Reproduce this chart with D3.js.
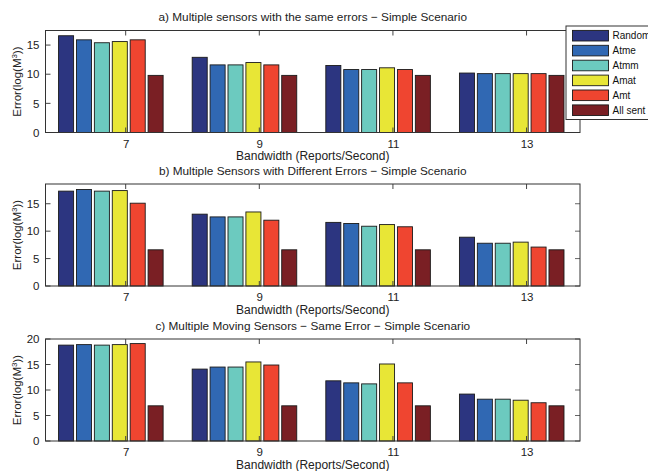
<!DOCTYPE html>
<html>
<head>
<meta charset="utf-8">
<script src="https://cdn.jsdelivr.net/npm/d3@7"></script>
<style>
  body { margin: 0; background: #fff; }
  svg { display: block; font-family: "Liberation Sans", Arial, sans-serif; }
</style>
</head>
<body>
<svg id="chart" width="648" height="471"></svg>
<script>
// Bandwidth groups and the six methods
const bandwidths = [7, 9, 11, 13];
const methods = ["Random", "Atme", "Atmm", "Amat", "Amt", "All sent"];
const colors = ["#2c3580", "#3068b3", "#6ccabf", "#e8e636", "#ef4530", "#7a1f24"];

// values per bandwidth, in the order of methods
const sameErrors = [
    [16.6, 15.9, 15.4, 15.6, 15.9, 9.8],
    [12.9, 11.6, 11.6, 12.0, 11.6, 9.8],
    [11.5, 10.8, 10.8, 11.1, 10.8, 9.8],
    [10.2, 10.1, 10.1, 10.1, 10.1, 9.8]
];
const differentErrors = [
    [17.3, 17.6, 17.3, 17.4, 15.1, 6.6],
    [13.1, 12.6, 12.6, 13.5, 12.0, 6.6],
    [11.6, 11.4, 10.9, 11.2, 10.8, 6.6],
    [8.9, 7.8, 7.8, 8.0, 7.1, 6.6]
];
const movingSensors = [
    [18.8, 18.9, 18.8, 18.9, 19.1, 6.9],
    [14.1, 14.5, 14.5, 15.5, 14.9, 6.9],
    [11.8, 11.4, 11.2, 15.1, 11.4, 6.9],
    [9.2, 8.2, 8.2, 8.0, 7.5, 6.9]
];

const titles = [
    "a) Multiple sensors with the same errors  \u2212 Simple Scenario",
    "b) Multiple Sensors with Different Errors \u2212 Simple Scenario",
    "c) Multiple Moving Sensors \u2212 Same Error \u2212 Simple Scenario"
];
const yMaxes = [17.5, 18.6, 20];
const yTickSets = [[0, 5, 10, 15], [0, 5, 10, 15], [0, 5, 10, 15, 20]];
const panelData = [sameErrors, differentErrors, movingSensors];

const svg = d3.select("#chart");
const left = 45.5, right = 580;
const panelTops = [30.5, 184, 339];
const panelH = 102;

const x = d3.scaleLinear().domain([5.8, 13.8]).range([left, right]);
// bar layout in x units
const barStep = 0.268, barW = 0.225, groupShift = -0.222;

panelData.forEach((data, p) => {
    const top = panelTops[p], bottom = top + panelH;
    const y = d3.scaleLinear().domain([0, yMaxes[p]]).range([bottom, top]);
    const g = svg.append("g");

    // bars
    bandwidths.forEach((bw, gi) => {
        g.selectAll(null)
            .data(data[gi])
            .enter()
            .append("rect")
            .attr("x", (d, i) => x(bw + groupShift + (i - 2.5) * barStep - barW / 2))
            .attr("width", x(barW) - x(0))
            .attr("y", d => y(d))
            .attr("height", d => y(0) - y(d))
            .attr("fill", (d, i) => colors[i])
            .attr("stroke", "#1a1a1a")
            .attr("stroke-width", 0.9);
    });

    // bottom axis with labels
    const xAxis = d3.axisBottom(x).tickValues(bandwidths).tickSize(0).tickPadding(7);
    g.append("g")
        .attr("transform", `translate(0,${bottom})`)
        .call(xAxis)
        .call(a => a.select(".domain").remove())
        .selectAll("text").attr("font-size", 11.5).attr("fill", "#222");

    const yAxis = d3.axisLeft(y).tickValues(yTickSets[p]).tickSize(0).tickPadding(6);
    g.append("g")
        .attr("transform", `translate(${left},0)`)
        .call(yAxis)
        .call(a => a.select(".domain").remove())
        .selectAll("text").attr("font-size", 11.5).attr("fill", "#222");

    // inward ticks on all sides
    const tk = 5;
    g.selectAll(null).data(bandwidths).enter().append("line")
        .attr("x1", d => x(d)).attr("x2", d => x(d))
        .attr("y1", top).attr("y2", top + tk)
        .attr("stroke", "#444");
    g.selectAll(null).data(bandwidths).enter().append("line")
        .attr("x1", d => x(d)).attr("x2", d => x(d))
        .attr("y1", bottom).attr("y2", bottom - tk)
        .attr("stroke", "#444");
    g.selectAll(null).data(yTickSets[p]).enter().append("line")
        .attr("x1", right).attr("x2", right - tk)
        .attr("y1", d => y(d)).attr("y2", d => y(d))
        .attr("stroke", "#666");
    g.selectAll(null).data(yTickSets[p]).enter().append("line")
        .attr("x1", left).attr("x2", left + tk)
        .attr("y1", d => y(d)).attr("y2", d => y(d))
        .attr("stroke", "#444");

    // axes box
    g.append("rect")
        .attr("x", left).attr("y", top)
        .attr("width", right - left).attr("height", panelH)
        .attr("fill", "none").attr("stroke", "#333").attr("stroke-width", 1);

    // title and labels
    g.append("text")
        .attr("x", (left + right) / 2).attr("y", top - 9.5)
        .attr("text-anchor", "middle").attr("font-size", 11.8).attr("fill", "#222")
        .text(titles[p]);

    g.append("text")
        .attr("x", (left + right) / 2).attr("y", bottom + 27.5)
        .attr("text-anchor", "middle").attr("font-size", 12).attr("fill", "#222")
        .text("Bandwidth (Reports/Second)");

    const yl = g.append("text")
        .attr("transform", `translate(21,${(top + bottom) / 2}) rotate(-90)`)
        .attr("text-anchor", "middle").attr("font-size", 11.5).attr("fill", "#222");
    yl.append("tspan").text("Error(log(M");
    yl.append("tspan").attr("font-size", 8).attr("dy", -4).text("3");
    yl.append("tspan").attr("dy", 4).text("))");
});

// legend (cut off at the right edge, as in the original figure)
const legend = svg.append("g").attr("transform", "translate(566,26)");
legend.append("rect")
    .attr("x", 0).attr("y", 0).attr("width", 90).attr("height", 93.5)
    .attr("fill", "#fff").attr("stroke", "#333").attr("stroke-width", 1);
const item = legend.selectAll(".item")
    .data(methods)
    .enter()
    .append("g")
    .attr("class", "item")
    .attr("transform", (d, i) => `translate(0,${9.7 + i * 14.9})`);
item.append("rect")
    .attr("x", 6.5).attr("y", -5.3).attr("width", 36).attr("height", 10.6)
    .attr("fill", (d, i) => colors[i])
    .attr("stroke", "#1a1a1a").attr("stroke-width", 0.9);
item.append("text")
    .attr("x", 46.5).attr("y", 3.6)
    .attr("font-size", 10).attr("fill", "#111")
    .text(d => d);
</script>
</body>
</html>
